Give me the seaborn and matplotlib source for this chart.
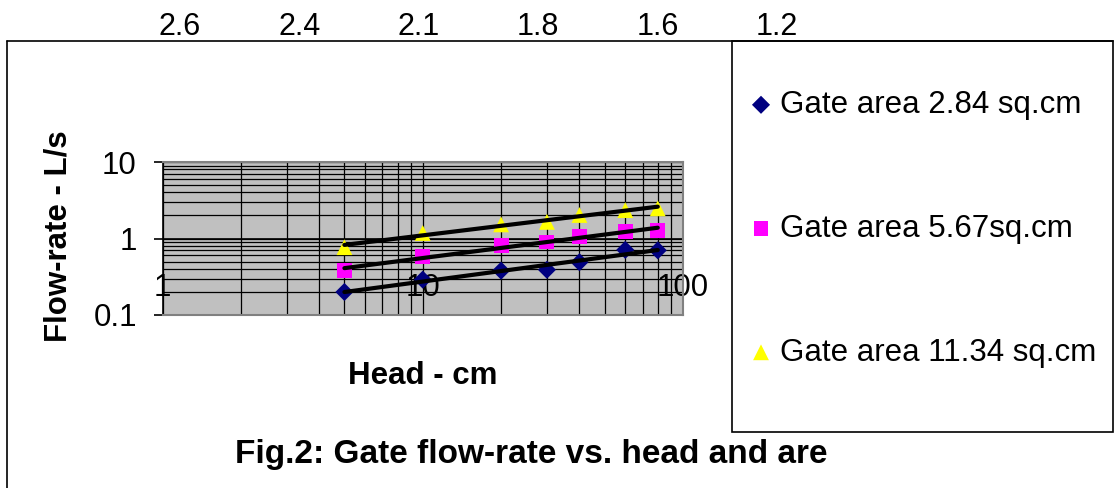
import numpy as np
import pandas as pd
import matplotlib.pyplot as plt
from matplotlib.ticker import NullFormatter
from matplotlib.patches import Rectangle
from matplotlib.lines import Line2D
import seaborn as sns

# data
head_cm = [5, 10, 20, 30, 40, 60, 80]
flow_284 = [0.20, 0.29, 0.38, 0.39, 0.49, 0.71, 0.70]
flow_567 = [0.38, 0.58, 0.80, 0.90, 1.07, 1.22, 1.28]
flow_1134 = [0.77, 1.18, 1.53, 1.65, 2.03, 2.35, 2.48]
series_names = ["Gate area 2.84 sq.cm", "Gate area 5.67sq.cm", "Gate area 11.34 sq.cm"]
top_labels = ["2.6", "2.4", "2.1", "1.8", "1.6", "1.2"]

colors = ["#000080", "#FF00FF", "#FFFF00"]
markers = ["D", "s", "^"]
sizes = [85, 115, 130]

df = pd.DataFrame({
    "head": head_cm * 3,
    "flow": flow_284 + flow_567 + flow_1134,
    "series": [n for n in series_names for _ in head_cm],
})

sns.set_style("white")
plt.rcParams["font.family"] = ["Liberation Sans", "DejaVu Sans"]
plt.rcParams["text.color"] = "black"
plt.rcParams["axes.labelcolor"] = "black"
plt.rcParams["xtick.color"] = "black"
plt.rcParams["ytick.color"] = "black"

W, H = 1114, 488
fig = plt.figure(figsize=(W / 100, H / 100), dpi=100)
ax = fig.add_axes([162.5 / W, 1 - 315 / H, (683 - 162.5) / W, (315 - 162) / H])
ax.set_facecolor("#C0C0C0")
ax.set_xscale("log")
ax.set_yscale("log")

for name, c, m, s in zip(series_names, colors, markers, sizes):
    sub = df[df["series"] == name]
    sns.scatterplot(data=sub, x="head", y="flow", color=c, marker=m, s=s,
                    edgecolor="none", label=name, ax=ax, zorder=3)
    # power trendline
    b, a = np.polyfit(np.log10(sub["head"]), np.log10(sub["flow"]), 1)
    xs = np.linspace(min(head_cm), max(head_cm), 100)
    sns.lineplot(x=xs, y=10 ** (a + b * np.log10(xs)), color="black", lw=3.0,
                 legend=False, ax=ax, zorder=4)

ax.set_xlim(1, 100)
ax.set_ylim(0.1, 10)
ax.set_axisbelow(True)
ax.grid(True, which="both", color="black", lw=0.9)
ax.axhline(1, color="black", lw=1.2, zorder=2)

for side in ["top", "right", "bottom"]:
    ax.spines[side].set_color("#808080")
    ax.spines[side].set_linewidth(1.5)
ax.spines["left"].set_color("black")
ax.spines["left"].set_linewidth(1.2)

ax.set_xticks([1, 10, 100], labels=["1", "10", "100"])
ax.set_yticks([0.1, 1, 10], labels=["0.1", "1", "10"])
ax.xaxis.set_minor_formatter(NullFormatter())
ax.yaxis.set_minor_formatter(NullFormatter())
ax.tick_params(axis="x", which="both", length=0, pad=-30.5, labelsize=22.5)
ax.tick_params(axis="y", which="major", length=6.5, width=1.2, color="black",
               direction="out", pad=12, labelsize=22.5, left=True)
ax.tick_params(axis="y", which="minor", length=0)

ax.set_xlabel("Head - cm", fontsize=22.5, fontweight="bold")
ax.xaxis.set_label_coords(0.5, -0.30)
ax.set_ylabel("Flow-rate - L/s", fontsize=22.5, fontweight="bold")
ax.yaxis.set_label_coords(-0.171, 0.516)

ax.legend(loc="upper left", bbox_to_anchor=(748.5 / W, 1 - 90 / H),
          bbox_transform=fig.transFigure, frameon=False, fontsize=22.5,
          borderpad=0, borderaxespad=0, handlelength=0.8, handletextpad=0.21,
          labelspacing=3.0)

# legend box and outer chart frame
fig.add_artist(Rectangle((732 / W, 1 - 432 / H), (1113 - 732) / W, (432 - 40.7) / H,
                         fill=False, ec="black", lw=1.2, transform=fig.transFigure))
fig.add_artist(Line2D([7 / W, 7 / W], [0, 1 - 40.7 / H], color="black", lw=1.2,
                      transform=fig.transFigure))
fig.add_artist(Line2D([7 / W, 1113 / W], [1 - 40.7 / H, 1 - 40.7 / H], color="black",
                      lw=1.2, transform=fig.transFigure))

for i, lab in enumerate(top_labels):
    fig.text((180 + 119.4 * i) / W, 1 - 27 / H, lab, ha="center", va="center", fontsize=22)

fig.text(531.5 / W, 1 - 455 / H, "Fig.2: Gate flow-rate vs. head and are",
         ha="center", va="center", fontsize=24, fontweight="bold")

fig.savefig("out.png", dpi=100)
